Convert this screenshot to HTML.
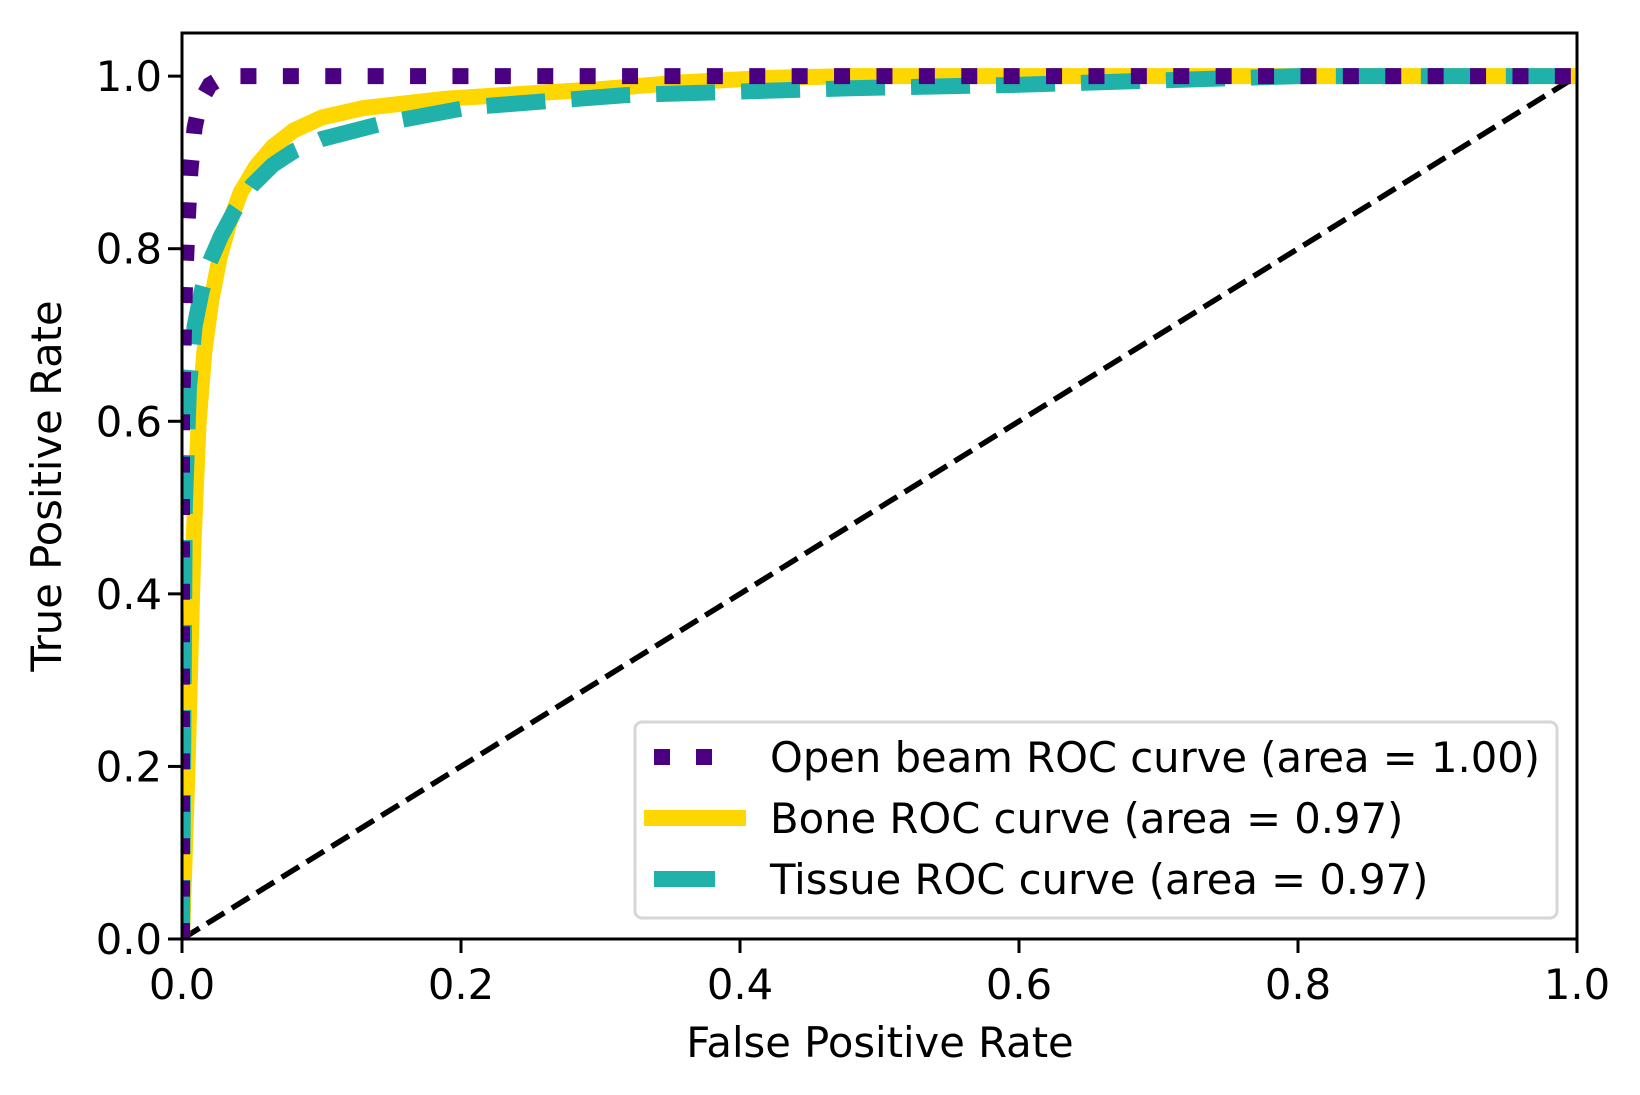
<!DOCTYPE html>
<html><head><meta charset="utf-8"><style>
html,body{margin:0;padding:0;background:#fff}
svg{display:block;font-family:"DejaVu Sans","Liberation Sans",sans-serif}
</style></head><body>
<svg id="chart" width="1640" height="1095" viewBox="0 0 1640 1095" xmlns="http://www.w3.org/2000/svg">
<defs><clipPath id="clip"><rect x="182" y="33" width="1395" height="906"/></clipPath></defs>
<rect width="1640" height="1095" fill="#fff"/>
<g id="plot" clip-path="url(#clip)"></g>
<g id="axes"></g>
</svg>
<script>
const xTicks = [0, 0.2, 0.4, 0.6, 0.8, 1.0];
const yTicks = [0, 0.2, 0.4, 0.6, 0.8, 1.0];
const tickLabels = ["0.0","0.2","0.4","0.6","0.8","1.0"];
const openFpr = [0, 0, 0.002, 0.004, 0.006, 0.009, 0.013, 0.02, 0.028, 0.036, 1];
const openTpr = [0, 0.6, 0.75, 0.83, 0.89, 0.94, 0.97, 0.99, 0.998, 1.0, 1.0];
const boneFpr = [0, 0.004, 0.008, 0.012, 0.016, 0.021, 0.027, 0.034, 0.042, 0.053, 0.065, 0.08, 0.1, 0.13, 0.19, 0.25, 0.3, 0.36, 0.42, 0.479, 1];
const boneTpr = [0, 0.2, 0.45, 0.6, 0.68, 0.74, 0.79, 0.83, 0.865, 0.895, 0.918, 0.937, 0.952, 0.963, 0.974, 0.98, 0.985, 0.993, 0.998, 1.0, 1.0];
const tissueFpr = [0, 0.002, 0.005, 0.009, 0.014, 0.02, 0.028, 0.038, 0.05, 0.065, 0.08, 0.1, 0.143, 0.206, 0.318, 0.479, 0.6, 0.8, 1];
const tissueTpr = [0, 0.5, 0.64, 0.71, 0.75, 0.785, 0.815, 0.845, 0.873, 0.897, 0.913, 0.927, 0.945, 0.964, 0.978, 0.986, 0.99, 1.0, 1.0];

const X0=182, X1=1577, Y0=939, Y1=33;
const xs = v => X0 + v*(X1-X0);
const ys = v => Y0 - v*(Y0-Y1)/1.05;
const NS="http://www.w3.org/2000/svg";
const plot=document.getElementById('plot'), axes=document.getElementById('axes');
function mk(tag, attrs, parent){const e=document.createElementNS(NS,tag);for(const k in attrs)e.setAttribute(k,attrs[k]);parent.appendChild(e);return e;}
function pts(a,b){return a.map((v,i)=>xs(v).toFixed(1)+','+ys(b[i]).toFixed(1)).join(' ');}

let l;
l=mk('line',{x1:xs(0),y1:ys(0),x2:xs(1),y2:ys(1),stroke:'#000','stroke-width':5.5,'stroke-dasharray':'20.5 8.8'},plot);


l=mk('polyline',{points:pts(boneFpr,boneTpr),fill:'none',stroke:'#ffd700','stroke-width':16,'stroke-linejoin':'round'},plot);


l=mk('polyline',{points:pts(tissueFpr,tissueTpr),fill:'none',stroke:'#20b2aa','stroke-width':16,'stroke-dasharray':'59 26'},plot);


l=mk('polyline',{points:pts(openFpr,openTpr),fill:'none',stroke:'#4b0082','stroke-width':16,'stroke-dasharray':'16 26.4'},plot);



// legend
const lg=mk('g',{},axes);


mk('rect',{x:635,y:722,width:922,height:196,rx:7,fill:'#fff','fill-opacity':0.85,stroke:'#d6d6d6','stroke-width':3},lg);
const entries=[["Open beam ROC curve (area = 1.00)",'#4b0082'],["Bone ROC curve (area = 0.97)",'#ffd700'],["Tissue ROC curve (area = 0.97)",'#20b2aa']];
entries.forEach((e,i)=>{const cy=757+i*61;
 const g=mk('g',{},lg);
 
 
 const a={x1:644,y1:cy,x2:746,y2:cy,stroke:e[1],'stroke-width':16};
 if(i===0){a.x1=654;a.x2=712;a['stroke-dasharray']='16 26';}
 if(i===2){a.x1=654;a.x2=715;}
 mk('line',a,g);
 const t=mk('text',{x:770,y:cy+15,'font-size':41.7,fill:'#000'},g);t.textContent=e[0];});

// frame
const fr=mk('rect',{x:X0,y:Y1,width:X1-X0,height:Y0-Y1,fill:'none',stroke:'#000','stroke-width':3},axes);


xTicks.forEach((v,i)=>{mk('line',{x1:xs(v),y1:Y0,x2:xs(v),y2:Y0+14,stroke:'#000','stroke-width':3},axes);
 const t=mk('text',{x:xs(v),y:Y0+60,'font-size':41.7,'text-anchor':'middle'},axes);t.textContent=tickLabels[i];
 
 });
yTicks.forEach((v,i)=>{mk('line',{x1:X0,y1:ys(v),x2:X0-14,y2:ys(v),stroke:'#000','stroke-width':3},axes);
 const t=mk('text',{x:X0-20,y:ys(v)+15,'font-size':41.7,'text-anchor':'end'},axes);t.textContent=tickLabels[i];
 
 });
let t=mk('text',{x:880,y:1057,'font-size':41.7,'text-anchor':'middle'},axes);t.textContent='False Positive Rate';


t=mk('text',{x:0,y:0,'font-size':41.7,'text-anchor':'middle',transform:'translate(61,486) rotate(-90)'},axes);t.textContent='True Positive Rate';


</script>
</body></html>
